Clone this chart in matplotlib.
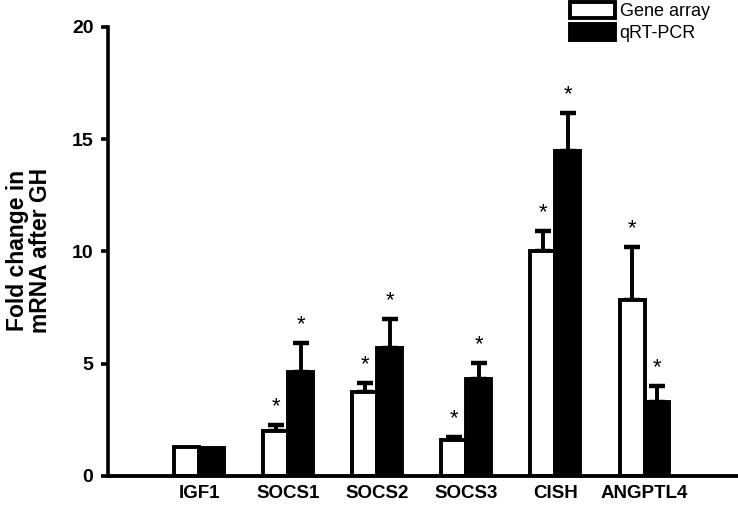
import numpy as np
import matplotlib
matplotlib.use("Agg")
import matplotlib.pyplot as plt

plt.rcParams['font.family'] = ['Liberation Sans', 'DejaVu Sans']

genes = ["IGF1", "SOCS1", "SOCS2", "SOCS3", "CISH", "ANGPTL4"]
array_vals = [1.3, 2.0, 3.75, 1.6, 10.0, 7.85]
array_err = [0.0, 0.27, 0.4, 0.15, 0.92, 2.35]
pcr_vals = [1.25, 4.65, 5.7, 4.3, 14.45, 3.3]
pcr_err = [0.0, 1.28, 1.28, 0.72, 1.7, 0.72]
array_sig = [False, True, True, True, True, True]
pcr_sig = [False, True, True, True, True, True]

fig = plt.figure(figsize=(7.38, 5.09), dpi=100)
ax = fig.add_axes([108/738, 1-476/509, 1-108/738, (476-26.7)/509])

x = np.arange(len(genes))
w = 0.28
lw = 2.8
ax.bar(x - w/2, array_vals, w, color='white', edgecolor='black', linewidth=lw,
       label="Gene array", zorder=2)
ax.bar(x + w/2, pcr_vals, w, color='black', edgecolor='black', linewidth=lw,
       label="qRT-PCR", zorder=2)

for xs, v, e in [(x - w/2, array_vals, array_err), (x + w/2, pcr_vals, pcr_err)]:
    v = np.array(v); e = np.array(e)
    m = e > 0
    ax.errorbar(xs[m], v[m], yerr=[np.zeros(m.sum()), e[m]], fmt='none',
                ecolor='black', elinewidth=2.8, capsize=6, capthick=3.2, zorder=1)

for xs, v, e, s in [(x - w/2, array_vals, array_err, array_sig),
                    (x + w/2, pcr_vals, pcr_err, pcr_sig)]:
    for xi, vi, ei, si in zip(xs, v, e, s):
        if si:
            ax.annotate("*", (xi, vi + ei), xytext=(0, 13), textcoords='offset points',
                        ha='center', va='center', fontsize=16)

ax.set_xlim((108-199)/89.1, (738-199)/89.1)
ax.set_ylim(0, 20)
ax.set_yticks([0, 5, 10, 15, 20])
ax.set_xticks(x)
ax.set_xticklabels(genes, fontsize=13.5, fontweight='bold')
for t in ax.get_yticklabels():
    t.set_fontweight('bold')
    t.set_fontsize(14)
ax.tick_params(axis='y', direction='out', length=5, width=2.6, pad=5.5)
ax.tick_params(axis='x', length=0, pad=6.5)
for s in ['top', 'right']:
    ax.spines[s].set_visible(False)
ax.spines['left'].set_linewidth(2.6)
ax.spines['bottom'].set_linewidth(2.8)

fig.text(29/738, 1-250/509, "Fold change in\nmRNA after GH", rotation=90,
         ha='center', va='center', fontsize=16.5, fontweight='bold',
         multialignment='center', linespacing=1.0)

ax.legend(loc='upper left', bbox_to_anchor=(569/738, 0.998), bbox_transform=fig.transFigure,
          frameon=False, fontsize=13, handlelength=2.5, handleheight=1.0,
          labelspacing=0.22, handletextpad=0.25, borderpad=0.05, borderaxespad=0)

fig.savefig("out.png", dpi=100)
